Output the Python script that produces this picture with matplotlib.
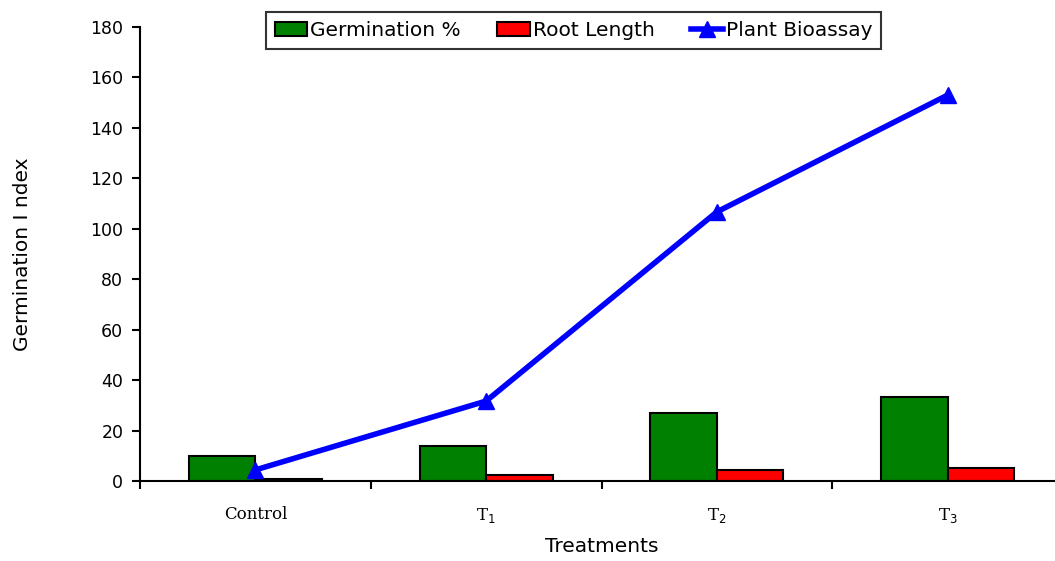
import matplotlib.pyplot as plt
import numpy as np

treatments = ['Control', 'T$_1$', 'T$_2$', 'T$_3$']
germination = [9.9, 13.9, 27.0, 33.3]
root_length = [0.6, 2.4, 4.5, 5.0]
bioassay = [4.4, 31.7, 106.7, 153.0]

fig = plt.figure(figsize=(10.55, 5.61), dpi=100)
W, H = 1055, 561
# axis from x=140 to ~1063 px, y=0 at 481 px, 180 at 27 px
ax = fig.add_axes([140 / W, (H - 481) / H, 923 / W, 454 / H])

x = np.arange(len(treatments))
bw = 0.288
b1 = ax.bar(x - bw / 2, germination, bw, color='#008000', edgecolor='black',
            linewidth=1.5, label='Germination %', zorder=2)
b2 = ax.bar(x + bw / 2, root_length, bw, color='#ff0000', edgecolor='black',
            linewidth=1.5, label='Root Length', zorder=2)
ln, = ax.plot(x, bioassay, color='#0000ff', linewidth=4, marker='^',
              markersize=11, label='Plant Bioassay', zorder=3, clip_on=False)

ax.set_xlim(-0.5, 3.5)
ax.set_ylim(0, 180)
ax.set_yticks(np.arange(0, 181, 20))
ax.tick_params(axis='y', labelsize=12.5, width=1.5, length=6, pad=6)

# category ticks sit on the boundaries
ax.set_xticks(np.arange(-0.5, 3.6, 1))
ax.set_xticklabels([])
ax.tick_params(axis='x', width=1.5, length=6)
ax.set_xticks(x, minor=True)
ax.set_xticklabels(treatments, minor=True, fontfamily='DejaVu Serif', fontsize=12)
ax.tick_params(axis='x', which='minor', length=0, pad=18)

for s in ['top', 'right']:
    ax.spines[s].set_visible(False)
for s in ['left', 'bottom']:
    ax.spines[s].set_linewidth(1.5)

ax.set_ylabel('Germination I ndex', fontsize=14.5, labelpad=42)
ax.set_xlabel('Treatments', fontsize=14.5, labelpad=9)

leg = ax.legend([b1, b2, ln], ['Germination %', 'Root Length', 'Plant Bioassay'],
                loc='upper center', bbox_to_anchor=(0.47, 1.033), ncol=3,
                fontsize=14.5, frameon=True, fancybox=False, edgecolor='black',
                handlelength=1.6, handletextpad=0.15, columnspacing=1.8,
                borderpad=0.45, borderaxespad=0)
leg.get_frame().set_linewidth(1.5)

fig.savefig('out.png', dpi=100)
